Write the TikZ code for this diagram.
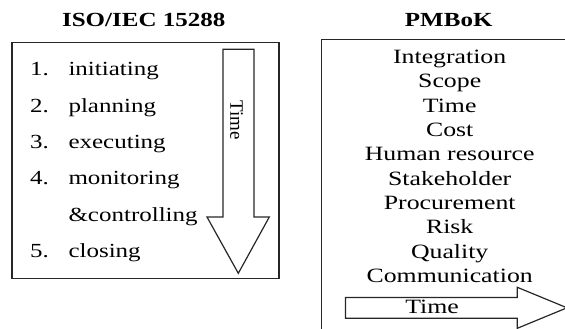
\documentclass[tikz,border=0pt]{standalone}
\usepackage{fontspec}
\setmainfont{Liberation Serif}
\newfontfamily\wide[FakeStretch=1.25]{Liberation Serif}
\newfontfamily\wider[FakeStretch=1.27]{Liberation Serif}
\begin{document}
\begin{tikzpicture}[x=1pt,y=-1pt,
  frame/.style={draw=black!85, line width=1.2pt},
  txt/.style={inner sep=0pt, anchor=base, font=\wider\fontsize{20.3}{24}\selectfont},
  ttl/.style={inner sep=0pt, anchor=base, font=\wide\fontsize{20}{24}\selectfont\bfseries},
  lft/.style={inner sep=0pt, anchor=base west, font=\wide\fontsize{20}{24}\selectfont}]
\useasboundingbox (0,0) rectangle (565,329);
\clip (0,0) rectangle (565,329);
% titles
\node[ttl] (t1) at (143.7,26.7) {ISO/IEC 15288};
\node[ttl] (t2) at (448.7,26.7) {PMBoK};
% left box
\draw[frame] (12,42.3) rectangle (279,278.5);
\draw[frame] (223,49.3) -- (254,49.3) -- (254,217) -- (269.3,217) -- (238.3,273.3)
  -- (207,217) -- (223,217) -- cycle;
\node[inner sep=0pt, rotate=-90, font=\fontsize{19}{22}\selectfont] (lt) at (236.5,120) {Time};
\foreach \n/\y/\t [count=\i] in {1./75.7/initiating, 2./112.1/planning, 3./148.5/executing,
   4./184.9/monitoring, /221.3/\&controlling, 5./257.7/closing}{
  \node[lft] (n\i) at (30,\y) {\n};
  \node[lft] (s\i) at (68.3,\y) {\t};
}
% right box
\draw[frame] (321.7,39.3) rectangle (620,380);
\foreach \t [count=\i] in {Integration, Scope, Time, Cost, Human resource, Stakeholder,
   Procurement, Risk, Quality, Communication}{
  \node[txt] (k\i) at (449.7,{63.6+(\i-1)*24.3}) {\t};
}
\draw[frame] (345.5,297.5) -- (517.3,297.5) -- (517.3,287.3) -- (567,307.8)
  -- (517.3,328.3) -- (517.3,318.2) -- (345.5,318.2) -- cycle;
\node[txt] (rt) at (432,313.3) {Time};
\end{tikzpicture}
\end{document}
